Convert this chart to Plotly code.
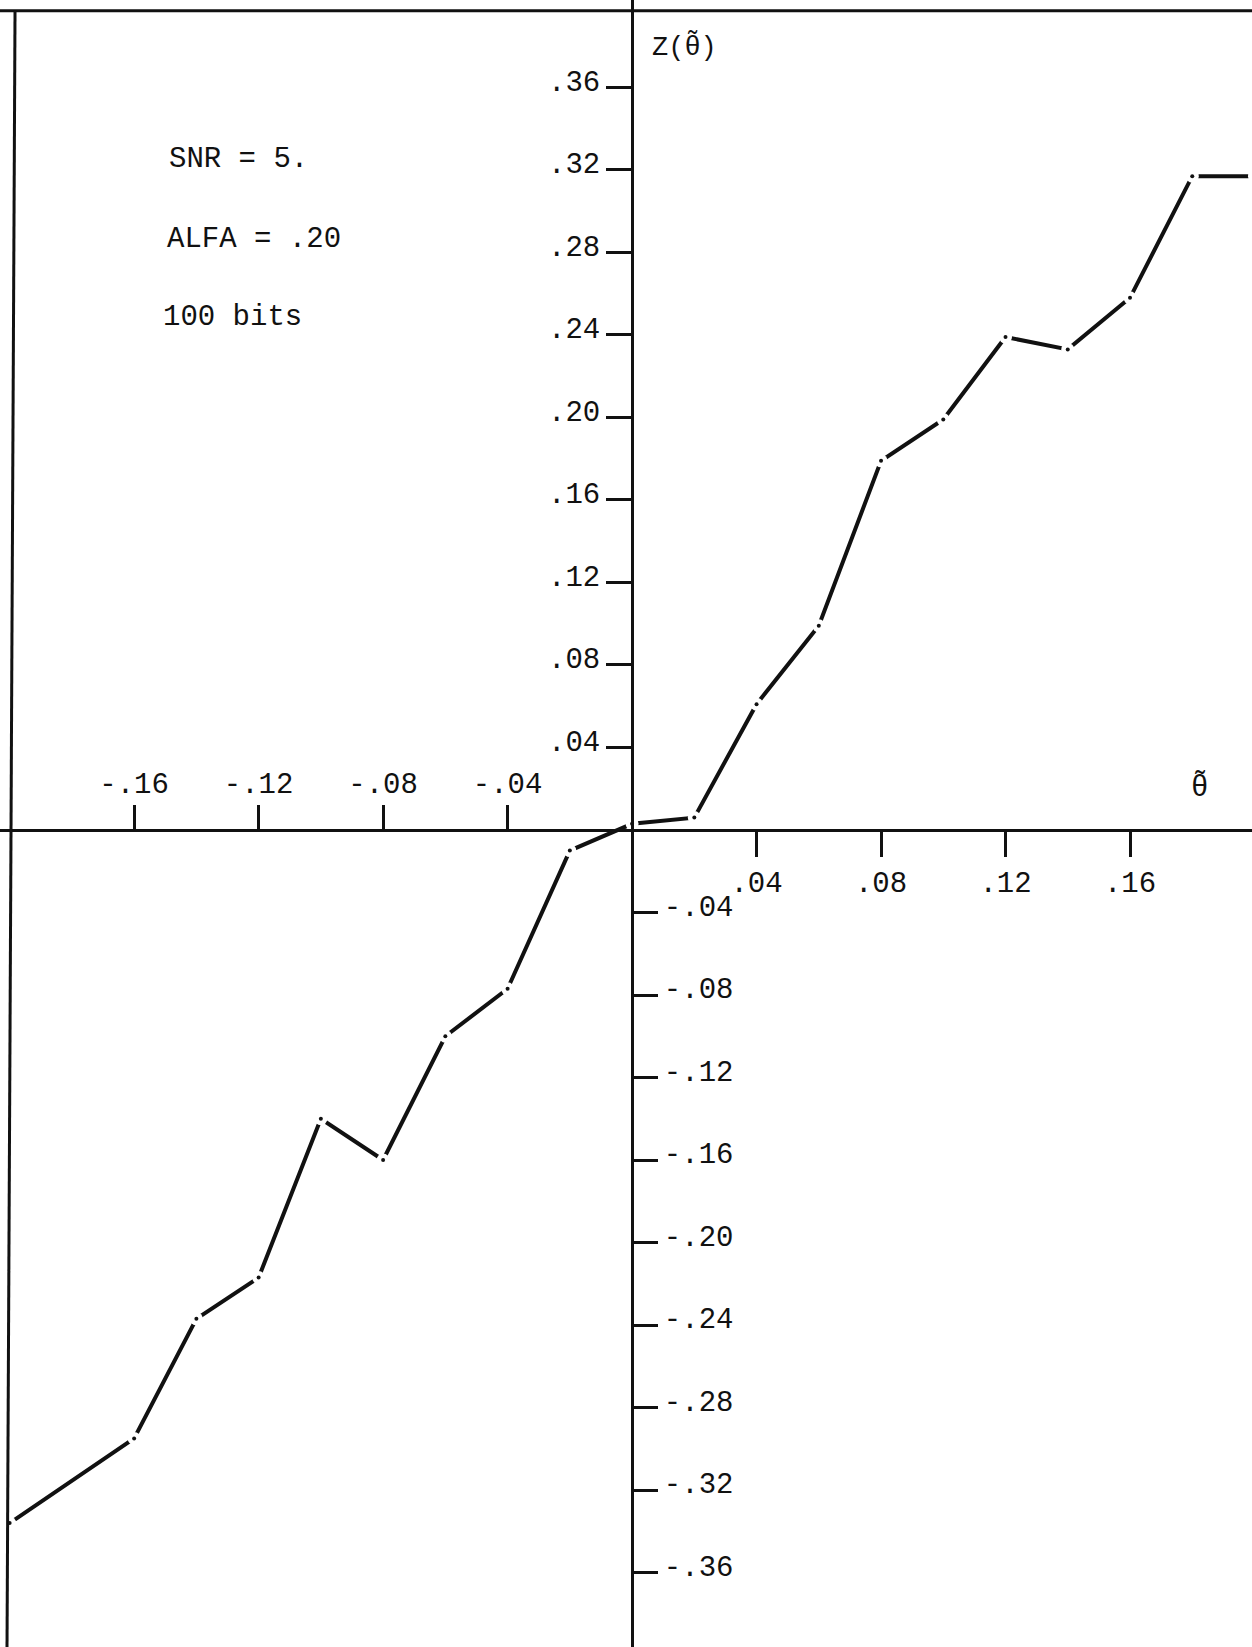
import plotly.graph_objects as go

# ---- data ----
theta = [-0.20, -0.16, -0.14, -0.12, -0.10, -0.08, -0.06, -0.04, -0.02, 0.00,
         0.02, 0.04, 0.06, 0.08, 0.10, 0.12, 0.14, 0.16, 0.18, 0.20]
z_theta = [-0.336, -0.295, -0.237, -0.217, -0.140, -0.160, -0.100, -0.077, -0.010, 0.003,
           0.006, 0.061, 0.099, 0.179, 0.199, 0.239, 0.233, 0.258, 0.317, 0.317]

x_pos_ticks = [0.04, 0.08, 0.12, 0.16]
x_pos_labels = [".04", ".08", ".12", ".16"]
x_neg_ticks = [-0.16, -0.12, -0.08, -0.04]
x_neg_labels = ["-.16", "-.12", "-.08", "-.04"]
y_pos_ticks = [0.04, 0.08, 0.12, 0.16, 0.20, 0.24, 0.28, 0.32, 0.36]
y_pos_labels = [".04", ".08", ".12", ".16", ".20", ".24", ".28", ".32", ".36"]
y_neg_ticks = [-0.04, -0.08, -0.12, -0.16, -0.20, -0.24, -0.28, -0.32, -0.36]
y_neg_labels = ["-.04", "-.08", "-.12", "-.16", "-.20", "-.24", "-.28", "-.32", "-.36"]

X_RANGE = [-0.2031, 0.1992]
Y_RANGE = [-0.3961, 0.4024]

FONT = "Liberation Mono"
FS = 29
INK = "#111111"

x_zero_frac = (0 - X_RANGE[0]) / (X_RANGE[1] - X_RANGE[0])
y_zero_frac = (0 - Y_RANGE[0]) / (Y_RANGE[1] - Y_RANGE[0])

fig = go.Figure()
# curve
fig.add_trace(go.Scatter(x=theta, y=z_theta, mode="lines",
                         line=dict(color=INK, width=4), hoverinfo="skip",
                         showlegend=False))
# gaps around the vertices
fig.add_trace(go.Scatter(x=theta, y=z_theta, mode="markers",
                         marker=dict(color="white", size=13, line=dict(width=0)),
                         hoverinfo="skip", showlegend=False))
# vertex dots
fig.add_trace(go.Scatter(x=theta, y=z_theta, mode="markers",
                         marker=dict(color=INK, size=4, line=dict(width=0)),
                         showlegend=False))
# dummy trace to activate the secondary axes
fig.add_trace(go.Scatter(x=[None], y=[None], xaxis="x2", yaxis="y2",
                         showlegend=False, hoverinfo="skip"))

tickfont = dict(family=FONT, size=FS, color=INK)
common = dict(showgrid=False, zeroline=False, ticks="outside", ticklen=25,
              tickwidth=3, tickcolor=INK, tickfont=tickfont, automargin=False,
              tickmode="array", fixedrange=True)

fig.update_layout(
    width=1252, height=1647,
    margin=dict(l=0, r=0, t=0, b=0),
    paper_bgcolor="white", plot_bgcolor="white",
    xaxis=dict(range=X_RANGE, anchor="free", position=y_zero_frac, side="bottom",
               showline=True, linewidth=3, linecolor=INK,
               tickvals=x_pos_ticks, ticktext=x_pos_labels, **common),
    xaxis2=dict(range=X_RANGE, overlaying="x", anchor="free", position=y_zero_frac,
                side="top", showline=False,
                tickvals=x_neg_ticks, ticktext=x_neg_labels, **common),
    yaxis=dict(range=Y_RANGE, anchor="free", position=x_zero_frac, side="left",
               showline=True, linewidth=3, linecolor=INK, ticklabelshift=-7,
               tickvals=y_pos_ticks, ticktext=y_pos_labels, **common),
    yaxis2=dict(range=Y_RANGE, overlaying="y", anchor="free", position=x_zero_frac,
                side="right", showline=False, ticklabelshift=-7,
                tickvals=y_neg_ticks, ticktext=y_neg_labels, **common),
    shapes=[
        dict(type="line", xref="paper", yref="paper", x0=0.0, x1=1.0, y0=0.9935, y1=0.9935,
             line=dict(color=INK, width=3)),
        dict(type="line", xref="paper", yref="paper", x0=0.0120, x1=0.0056, y0=0.9935, y1=0.0,
             line=dict(color=INK, width=3)),
    ],
    annotations=[
        dict(text="SNR = 5.", xref="paper", yref="paper", x=0.1334, y=0.9029,
             xanchor="left", yanchor="middle", showarrow=False,
             font=dict(family=FONT, size=FS, color=INK)),
        dict(text="ALFA = .20", xref="paper", yref="paper", x=0.1318, y=0.8543,
             xanchor="left", yanchor="middle", showarrow=False,
             font=dict(family=FONT, size=FS, color=INK)),
        dict(text="100 bits", xref="paper", yref="paper", x=0.1286, y=0.8075,
             xanchor="left", yanchor="middle", showarrow=False,
             font=dict(family=FONT, size=FS, color=INK)),
        dict(text="Z(\u03b8\u0303)", xref="paper", yref="paper", x=0.519, y=0.972,
             xanchor="left", yanchor="middle", showarrow=False,
             font=dict(family=FONT, size=27, color=INK)),
        dict(text="\u03b8\u0303", xref="paper", yref="paper", x=0.958, y=0.522,
             xanchor="center", yanchor="middle", showarrow=False,
             font=dict(family=FONT, size=29, color=INK)),
    ],
)

fig.write_html("out.html", config={"displayModeBar": False},
               post_script="document.body.style.margin='0';document.body.style.overflow='hidden';")
